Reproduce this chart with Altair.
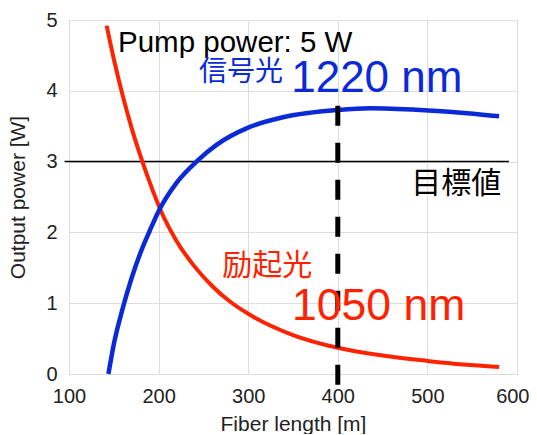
import altair as alt
import pandas as pd

# Pump (励起光 1050 nm) output power vs fiber length
pump_len = [142, 150, 160, 170, 180, 190, 202, 220, 240, 260, 280, 300, 350, 400, 450, 500, 540, 580]
pump_pow = [4.92, 4.45, 3.93, 3.47, 3.07, 2.71, 2.32, 1.88, 1.52, 1.24, 1.02, 0.85, 0.55, 0.37, 0.26, 0.185, 0.135, 0.10]

# Signal (信号光 1220 nm) output power vs fiber length
sig_len = [144, 150, 160, 170, 180, 190, 200, 220, 244, 265, 300, 340, 400, 436, 492, 548, 580]
sig_pow = [0.0, 0.42, 0.93, 1.36, 1.72, 2.02, 2.30, 2.70, 3.02, 3.24, 3.48, 3.63, 3.73, 3.755, 3.73, 3.68, 3.64]

# target line and chosen length
target_x = [95, 591]
target_y = 3
chosen_x = 400
chosen_y = [3.79, -0.18]

# annotations
ann_text = ["Pump power: 5 W", "信号光", "1220 nm", "目標値", "励起光", "1050 nm"]
ann_x = [154.7, 245, 348, 482, 271, 349]
ann_y = [4.55, 4.14, 3.98, 2.56, 1.40, 0.76]
ann_color = ["#000000", "#0a2ad8", "#0a2ad8", "#000000", "#ff2200", "#ff2200"]
ann_size = [29.5, 28, 44, 30, 30, 44.5]

FONT = "Liberation Sans, Noto Sans CJK JP"

xs = alt.Scale(domain=[100, 600], nice=False)
ys = alt.Scale(domain=[0, 5], nice=False)

xaxis = alt.Axis(values=[100, 200, 300, 400, 500, 600], title="Fiber length [m]", format="d",
                 grid=True, gridColor="#dddddd", domain=False, ticks=False, labelFlush=False,
                 labelAlign={"condition": {"test": "datum.value == 600", "value": "right"}, "value": "center"},
                 labelOffset={"condition": {"test": "datum.value == 600", "value": 12}, "value": 0},
                 labelFontSize=20, labelPadding=12, labelColor="#222222",
                 titleFontSize=21, titleFontWeight="normal", titlePadding=7,
                 titleColor="#222222", labelFont=FONT, titleFont=FONT)
yaxis = alt.Axis(values=[0, 1, 2, 3, 4, 5], title="Output power [W]", format="d",
                 grid=True, gridColor="#dddddd", domain=False, ticks=False, labelFlush=False,
                 labelFontSize=20, labelPadding=12, labelColor="#222222",
                 titleFontSize=21, titleFontWeight="normal", titlePadding=17,
                 titleColor="#222222", labelFont=FONT, titleFont=FONT)

pump_df = pd.DataFrame({"L": pump_len, "P": pump_pow})
sig_df = pd.DataFrame({"L": sig_len, "P": sig_pow})

base_grid = alt.Chart(pd.DataFrame({"L": [100], "P": [0]})).mark_point(opacity=0).encode(
    x=alt.X("L:Q", scale=xs, axis=xaxis),
    y=alt.Y("P:Q", scale=ys, axis=yaxis),
)

target = alt.Chart(pd.DataFrame({"x1": [target_x[0]], "x2": [target_x[1]], "y": [target_y]})).mark_rule(
    color="black", strokeWidth=1.5
).encode(x=alt.X("x1:Q", scale=xs), x2="x2:Q", y=alt.Y("y:Q", scale=ys))

pump = alt.Chart(pump_df).mark_line(color="#ff2200", strokeWidth=4, interpolate="monotone").encode(
    x=alt.X("L:Q", scale=xs), y=alt.Y("P:Q", scale=ys)
)
sig = alt.Chart(sig_df).mark_line(color="#0a2ad8", strokeWidth=4.5, interpolate="monotone").encode(
    x=alt.X("L:Q", scale=xs), y=alt.Y("P:Q", scale=ys)
)

chosen = alt.Chart(pd.DataFrame({"x": [chosen_x], "y1": [chosen_y[0]], "y2": [chosen_y[1]]})).mark_rule(
    color="black", strokeWidth=5, strokeDash=[20, 17], clip=False
).encode(x=alt.X("x:Q", scale=xs), y=alt.Y("y1:Q", scale=ys), y2="y2:Q")

ann_df = pd.DataFrame({"t": ann_text, "x": ann_x, "y": ann_y, "c": ann_color, "s": ann_size})
ann = alt.Chart(ann_df).mark_text(align="left", baseline="alphabetic", font=FONT).encode(
    x=alt.X("x:Q", scale=xs), y=alt.Y("y:Q", scale=ys), text="t:N",
    color=alt.Color("c:N", scale=None), size=alt.Size("s:Q", scale=None)
)

chart = alt.layer(base_grid, target, pump, sig, chosen, ann).properties(
    width=448, height=354,
    autosize=alt.AutoSizeParams(type="none"),
    padding={"left": 61, "top": 12, "right": 12, "bottom": 60},
    background="white",
).configure_view(stroke="#bbbbbb", strokeWidth=1)

chart.save("out.html", embed_options={"renderer": "svg", "actions": False})
